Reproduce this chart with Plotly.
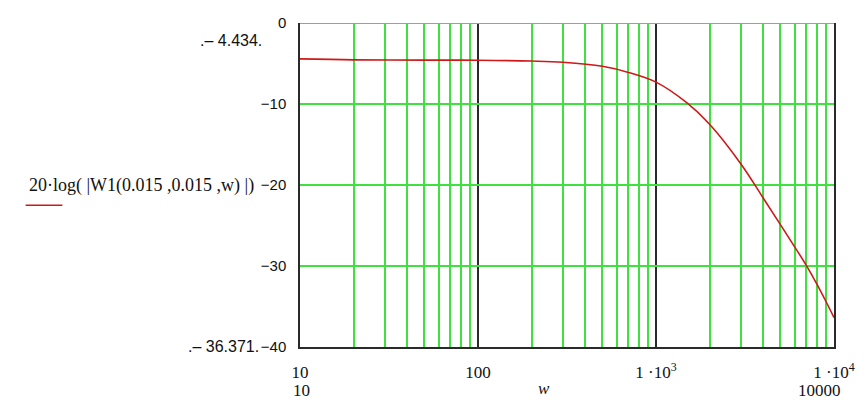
import plotly.graph_objects as go

# values (Mathcad style Bode magnitude plot)
w = [10, 20, 50, 100, 200, 300, 500, 700, 1000, 1500, 2000, 3000, 4000,
     5000, 6000, 7000, 8000, 9000, 10000]
gain_db = [-4.434, -4.55, -4.58, -4.6, -4.7, -4.85, -5.35, -6.1, -7.3, -9.9,
           -12.5, -17.4, -21.6, -24.9, -27.6, -29.95, -32.2, -34.35, -36.371]

x_major = [10, 100, 1000, 10000]
x_major_text = ['10', '100', '1 \u00b710<sup>3</sup>', '1 \u00b710<sup>4</sup>']
x_minor = [m * d for d in (10, 100, 1000) for m in range(2, 10)]
y_ticks = [0, -10, -20, -30, -40]
y_text = ['0', '\u221210', '\u221220', '\u221230', '\u221240']

legend_text = '20\u00b7log( |W1(0.015 ,0.015 ,w) |)'
y_top_mark = '.\u2013 4.434.'
y_bot_mark = '.\u2013 36.371.'

W, H = 867, 402
L, R, T, B = 299.5, 837.7, 22.7, 346.7

GREEN = '#40e040'
FRAME = '#2a2a2a'
RED = '#d01818'
SERIF = 'Liberation Serif, Times New Roman, serif'
SANS = 'Liberation Sans, Arial, sans-serif'


def px(xp):
    return (xp - L) / (R - L)


def py(yp):
    return (B - yp) / (B - T)


fig = go.Figure()
fig.add_trace(go.Scatter(x=w, y=gain_db, mode='lines', line_shape='spline',
                         line=dict(color=RED, width=1.6), showlegend=False))

fig.update_xaxes(
    type='log', range=[1, 4],
    tickvals=x_major, ticktext=x_major_text,
    showgrid=True, gridcolor=FRAME, gridwidth=1.5,
    minor=dict(tickvals=x_minor, showgrid=True, gridcolor=GREEN, gridwidth=1.5, ticklen=0),
    showline=True, linecolor=FRAME, linewidth=1.5, mirror=False,
    ticks='', ticklabelstandoff=9,
    tickfont=dict(family=SERIF, size=17, color='#111'),
    zeroline=False,
)
fig.update_yaxes(
    range=[-40, 0],
    tickvals=y_ticks, ticktext=y_text,
    showgrid=True, gridcolor=GREEN, gridwidth=1.5,
    showline=True, linecolor=FRAME, linewidth=1.5, mirror=True,
    ticks='', ticklabelstandoff=9,
    tickfont=dict(family=SANS, size=15, color='#111'),
    zeroline=False,
)

# green top border (the 0 dB grid line)
fig.add_shape(type='line', xref='paper', yref='y', x0=0, x1=1, y0=0, y1=0,
              line=dict(color=GREEN, width=2))

annotations = [
    dict(text=legend_text, x=px(24), y=py(185), xanchor='left', yanchor='middle',
         font=dict(family=SERIF, size=18, color='#111')),
    dict(text=y_top_mark, x=px(263), y=py(40), xanchor='right', yanchor='middle',
         font=dict(family=SANS, size=16, color='#111')),
    dict(text=y_bot_mark, x=px(260), y=py(346), xanchor='right', yanchor='middle',
         font=dict(family=SANS, size=16, color='#111')),
    dict(text='10', x=px(301), y=py(390), xanchor='center', yanchor='middle',
         font=dict(family=SERIF, size=17, color='#111')),
    dict(text='<i>w</i>', x=px(545), y=py(388), xanchor='center', yanchor='middle',
         font=dict(family=SERIF, size=17, color='#111')),
    dict(text='10000', x=px(823), y=py(390), xanchor='center', yanchor='middle',
         font=dict(family=SERIF, size=17, color='#111')),
]
for a in annotations:
    fig.add_annotation(xref='paper', yref='paper', showarrow=False, **a)

# red legend sample under the expression
fig.add_shape(type='line', xref='paper', yref='paper',
              x0=px(23), x1=px(60), y0=py(205), y1=py(205),
              line=dict(color=RED, width=1.6))

fig.update_layout(
    width=W, height=H,
    margin=dict(l=L, r=W - R, t=T, b=H - B),
    paper_bgcolor='white', plot_bgcolor='white',
    showlegend=False,
)

# the page's default body margin would shift the whole figure by 8px
fig.write_html('out.html', config={'displayModeBar': False},
               post_script="document.body.style.margin='0';")
